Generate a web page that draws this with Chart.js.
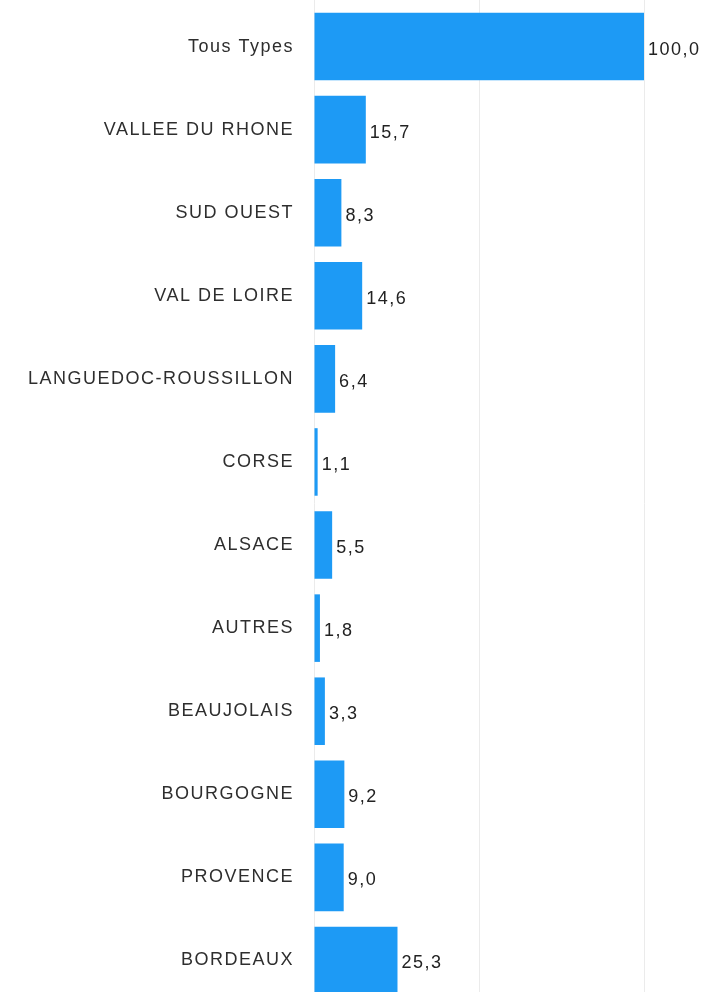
<!DOCTYPE html>
<html lang="fr">
<head>
<meta charset="utf-8">
<title>Répartition par région</title>
<script src="https://cdn.jsdelivr.net/npm/chart.js@4/dist/chart.umd.min.js"></script>
<style>
  html, body { margin: 0; padding: 0; background: #ffffff; overflow: hidden; }
  #wrap { position: absolute; left: 0; top: -7px; width: 704px; height: 1018px; }
</style>
</head>
<body>
<div id="wrap"><canvas id="chart"></canvas></div>
<script>
// Régions (de haut en bas) et leurs indices
const regions = [
  'Tous Types', 'VALLEE DU RHONE', 'SUD OUEST', 'VAL DE LOIRE',
  'LANGUEDOC-ROUSSILLON', 'CORSE', 'ALSACE', 'AUTRES',
  'BEAUJOLAIS', 'BOURGOGNE', 'PROVENCE', 'BORDEAUX'
];
const indices = [100.0, 15.7, 8.3, 14.6, 6.4, 1.1, 5.5, 1.8, 3.3, 9.2, 9.0, 25.3];
const axisTicks = [0, 50, 100];

const FONT = '"Liberation Sans", Arial, sans-serif';
const SPACING = '1.5px';

// Slightly widened lettering for all canvas text
const letterSpacing = {
  id: 'letterSpacing',
  beforeDraw(chart) { chart.ctx.letterSpacing = SPACING; }
};

// Value written just past the end of each bar, French decimal comma
const valueLabels = {
  id: 'valueLabels',
  afterDatasetsDraw(chart) {
    const ctx = chart.ctx;
    const meta = chart.getDatasetMeta(0);
    const values = chart.data.datasets[0].data;
    ctx.save();
    ctx.letterSpacing = SPACING;
    ctx.font = '18px ' + FONT;
    ctx.fillStyle = '#222222';
    ctx.textAlign = 'left';
    ctx.textBaseline = 'middle';
    meta.data.forEach((bar, i) => {
      const txt = values[i].toFixed(1).replace('.', ',');
      ctx.fillText(txt, bar.x + 4, bar.y + 3);
    });
    ctx.restore();
  }
};

new Chart(document.getElementById('chart'), {
  type: 'bar',
  data: {
    labels: regions,
    datasets: [{
      data: indices,
      backgroundColor: '#1d9af5',
      borderWidth: 0,
      barPercentage: 1,
      categoryPercentage: 0.813
    }]
  },
  options: {
    indexAxis: 'y',
    responsive: true,
    maintainAspectRatio: false,
    animation: false,
    layout: { padding: { left: 0, right: 60, top: 0, bottom: 0 } },
    plugins: {
      legend: { display: false },
      tooltip: { enabled: false }
    },
    scales: {
      x: {
        position: 'top',
        min: axisTicks[0],
        max: axisTicks[axisTicks.length - 1],
        afterBuildTicks(scale) { scale.ticks = axisTicks.map(v => ({ value: v })); },
        ticks: { display: false },
        grid: { color: '#ebebeb', lineWidth: 1, drawTicks: true, tickLength: 12 },
        border: { display: false }
      },
      y: {
        afterFit(scale) { scale.width = 314; },
        // hidden grid; tick length only sets the gap between labels and bars
        grid: { display: false, drawTicks: true, tickLength: 20 },
        border: { display: false },
        ticks: {
          padding: 0,
          color: '#2e2e2e',
          font: { family: FONT, size: 18, lineHeight: 1 }
        }
      }
    }
  },
  plugins: [letterSpacing, valueLabels]
});
</script>
</body>
</html>
